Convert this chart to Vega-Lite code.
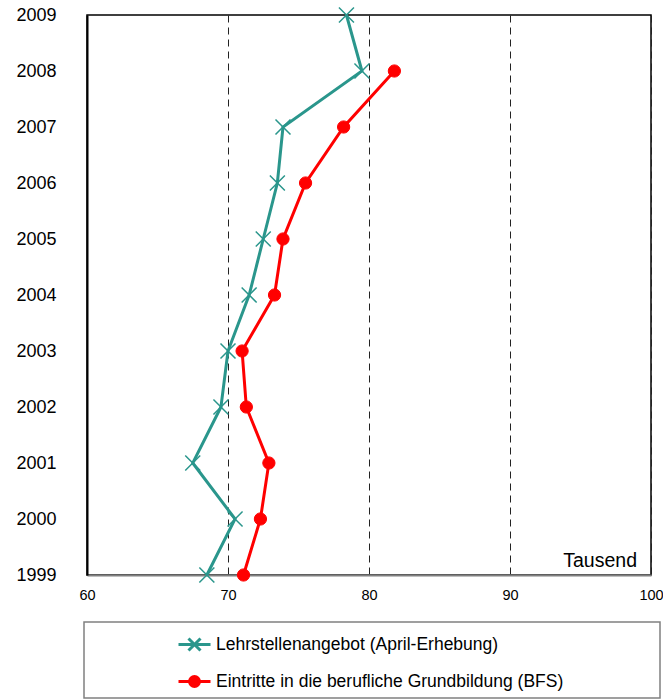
{
  "$schema": "https://vega.github.io/schema/vega-lite/v6.json",
  "width": 564,
  "height": 560,
  "autosize": {"type": "none"},
  "padding": {"left": 87, "top": 15, "right": 12, "bottom": 125},
  "background": "white",
  "config": {
    "font": "Liberation Sans",
    "view": {"stroke": "black", "strokeWidth": 1.5},
    "legend": {
      "padding": 5,
      "symbolOffset": 88,
      "labelOffset": 4,
      "rowPadding": 7,
      "strokeColor": "#808080",
      "strokeWidth": 1.5,
      "labelFont": "Liberation Sans",
      "labelFontSize": 17.5,
      "labelColor": "black",
      "labelLimit": 500,
      "symbolSize": 1024,
      "symbolStrokeWidth": 3,
      "symbolOpacity": 1
    }
  },
  "datasets": {
    "main": [
      {"year": 1999, "value": 68.5, "series": "Lehrstellenangebot (April-Erhebung)"},
      {"year": 2000, "value": 70.5, "series": "Lehrstellenangebot (April-Erhebung)"},
      {"year": 2001, "value": 67.5, "series": "Lehrstellenangebot (April-Erhebung)"},
      {"year": 2002, "value": 69.5, "series": "Lehrstellenangebot (April-Erhebung)"},
      {"year": 2003, "value": 70.0, "series": "Lehrstellenangebot (April-Erhebung)"},
      {"year": 2004, "value": 71.5, "series": "Lehrstellenangebot (April-Erhebung)"},
      {"year": 2005, "value": 72.5, "series": "Lehrstellenangebot (April-Erhebung)"},
      {"year": 2006, "value": 73.5, "series": "Lehrstellenangebot (April-Erhebung)"},
      {"year": 2007, "value": 73.9, "series": "Lehrstellenangebot (April-Erhebung)"},
      {"year": 2008, "value": 79.5, "series": "Lehrstellenangebot (April-Erhebung)"},
      {"year": 2009, "value": 78.4, "series": "Lehrstellenangebot (April-Erhebung)"},
      {"year": 1999, "value": 71.1, "series": "Eintritte in die berufliche Grundbildung (BFS)"},
      {"year": 2000, "value": 72.3, "series": "Eintritte in die berufliche Grundbildung (BFS)"},
      {"year": 2001, "value": 72.9, "series": "Eintritte in die berufliche Grundbildung (BFS)"},
      {"year": 2002, "value": 71.3, "series": "Eintritte in die berufliche Grundbildung (BFS)"},
      {"year": 2003, "value": 71.0, "series": "Eintritte in die berufliche Grundbildung (BFS)"},
      {"year": 2004, "value": 73.3, "series": "Eintritte in die berufliche Grundbildung (BFS)"},
      {"year": 2005, "value": 73.9, "series": "Eintritte in die berufliche Grundbildung (BFS)"},
      {"year": 2006, "value": 75.5, "series": "Eintritte in die berufliche Grundbildung (BFS)"},
      {"year": 2007, "value": 78.2, "series": "Eintritte in die berufliche Grundbildung (BFS)"},
      {"year": 2008, "value": 81.8, "series": "Eintritte in die berufliche Grundbildung (BFS)"}
    ],
    "note": [
      {"x": 100, "year": 1999, "label": "Tausend"}
    ]
  },
  "layer": [
    {
      "data": {"name": "main"},
      "transform": [{"filter": {"field": "series", "equal": "Eintritte in die berufliche Grundbildung (BFS)"}}],
      "mark": {"type": "line", "strokeWidth": 3, "color": "#FF0000"},
      "encoding": {
        "x": {
          "field": "value",
          "type": "quantitative",
          "scale": {"domain": [60, 100], "nice": false, "zero": false},
          "axis": {
            "title": null,
            "values": [60, 70, 80, 90, 100],
            "labelFontSize": 14.5,
            "labelColor": "black",
            "labelPadding": 13,
            "labelFlush": false,
            "ticks": false,
            "grid": true,
            "gridColor": "#222222",
            "gridDash": [7, 5],
            "gridWidth": 1,
            "domainColor": "#808080",
            "domainWidth": 2
          }
        },
        "y": {
          "field": "year",
          "type": "quantitative",
          "scale": {"domain": [1999, 2009], "nice": false, "zero": false},
          "axis": {
            "title": null,
            "values": [1999, 2000, 2001, 2002, 2003, 2004, 2005, 2006, 2007, 2008, 2009],
            "format": "d",
            "labelFontSize": 18,
            "labelColor": "black",
            "labelPadding": 31,
            "labelFlush": false,
            "ticks": false,
            "grid": false,
            "domainColor": "black",
            "domainWidth": 2
          }
        },
        "order": {"field": "year", "type": "quantitative"}
      }
    },
    {
      "data": {"name": "main"},
      "transform": [{"filter": {"field": "series", "equal": "Lehrstellenangebot (April-Erhebung)"}}],
      "mark": {"type": "line", "strokeWidth": 3, "color": "#2A968C"},
      "encoding": {
        "x": {"field": "value", "type": "quantitative"},
        "y": {"field": "year", "type": "quantitative"},
        "order": {"field": "year", "type": "quantitative"}
      }
    },
    {
      "data": {"name": "main"},
      "transform": [{"filter": {"field": "series", "equal": "Lehrstellenangebot (April-Erhebung)"}}],
      "mark": {"type": "point", "shape": "M-1,-1L1,1M-1,1L1,-1", "size": 225, "filled": false, "stroke": "#2A968C", "strokeWidth": 1.5, "opacity": 1},
      "encoding": {
        "x": {"field": "value", "type": "quantitative"},
        "y": {"field": "year", "type": "quantitative"}
      }
    },
    {
      "data": {"name": "main"},
      "transform": [{"filter": {"field": "series", "equal": "Eintritte in die berufliche Grundbildung (BFS)"}}],
      "mark": {"type": "point", "shape": "circle", "size": 150, "filled": true, "fill": "#FF0000", "stroke": "#FF0000", "strokeWidth": 1, "opacity": 1},
      "encoding": {
        "x": {"field": "value", "type": "quantitative"},
        "y": {"field": "year", "type": "quantitative"}
      }
    },
    {
      "data": {"name": "main"},
      "transform": [{"filter": {"field": "year", "lt": 0}}],
      "mark": {"type": "point", "size": 1024, "strokeWidth": 3},
      "encoding": {
        "x": {"field": "value", "type": "quantitative"},
        "y": {"field": "year", "type": "quantitative"},
        "fill": {
          "field": "series",
          "type": "nominal",
          "scale": {
            "domain": ["Lehrstellenangebot (April-Erhebung)", "Eintritte in die berufliche Grundbildung (BFS)"],
            "range": ["#2A968C", "#FF0000"]
          },
          "legend": {"orient": "none", "legendX": -3, "legendY": 607, "title": null}
        },
        "stroke": {
          "field": "series",
          "type": "nominal",
          "scale": {
            "domain": ["Lehrstellenangebot (April-Erhebung)", "Eintritte in die berufliche Grundbildung (BFS)"],
            "range": ["#2A968C", "#FF0000"]
          },
          "legend": {"orient": "none", "legendX": -3, "legendY": 607, "title": null}
        },
        "shape": {
          "field": "series",
          "type": "nominal",
          "scale": {
            "domain": ["Lehrstellenangebot (April-Erhebung)", "Eintritte in die berufliche Grundbildung (BFS)"],
            "range": [
              "M-1,0L1,0M-0.375,-0.375L0.375,0.375M-0.375,0.375L0.375,-0.375M28.4,0",
              "M-1,0L1,0M0.31,0A0.31,0.31 0 1 1 -0.31,0A0.31,0.31 0 1 1 0.31,0ZM28.4,0"
            ]
          },
          "legend": {"orient": "none", "legendX": -3, "legendY": 607, "title": null}
        }
      }
    },
    {
      "data": {"name": "note"},
      "mark": {"type": "text", "align": "right", "baseline": "alphabetic", "dx": -14, "dy": -8.5, "fontSize": 19.5, "font": "Liberation Sans", "color": "black"},
      "encoding": {
        "x": {"field": "x", "type": "quantitative"},
        "y": {"field": "year", "type": "quantitative"},
        "text": {"field": "label"}
      }
    }
  ]
}
